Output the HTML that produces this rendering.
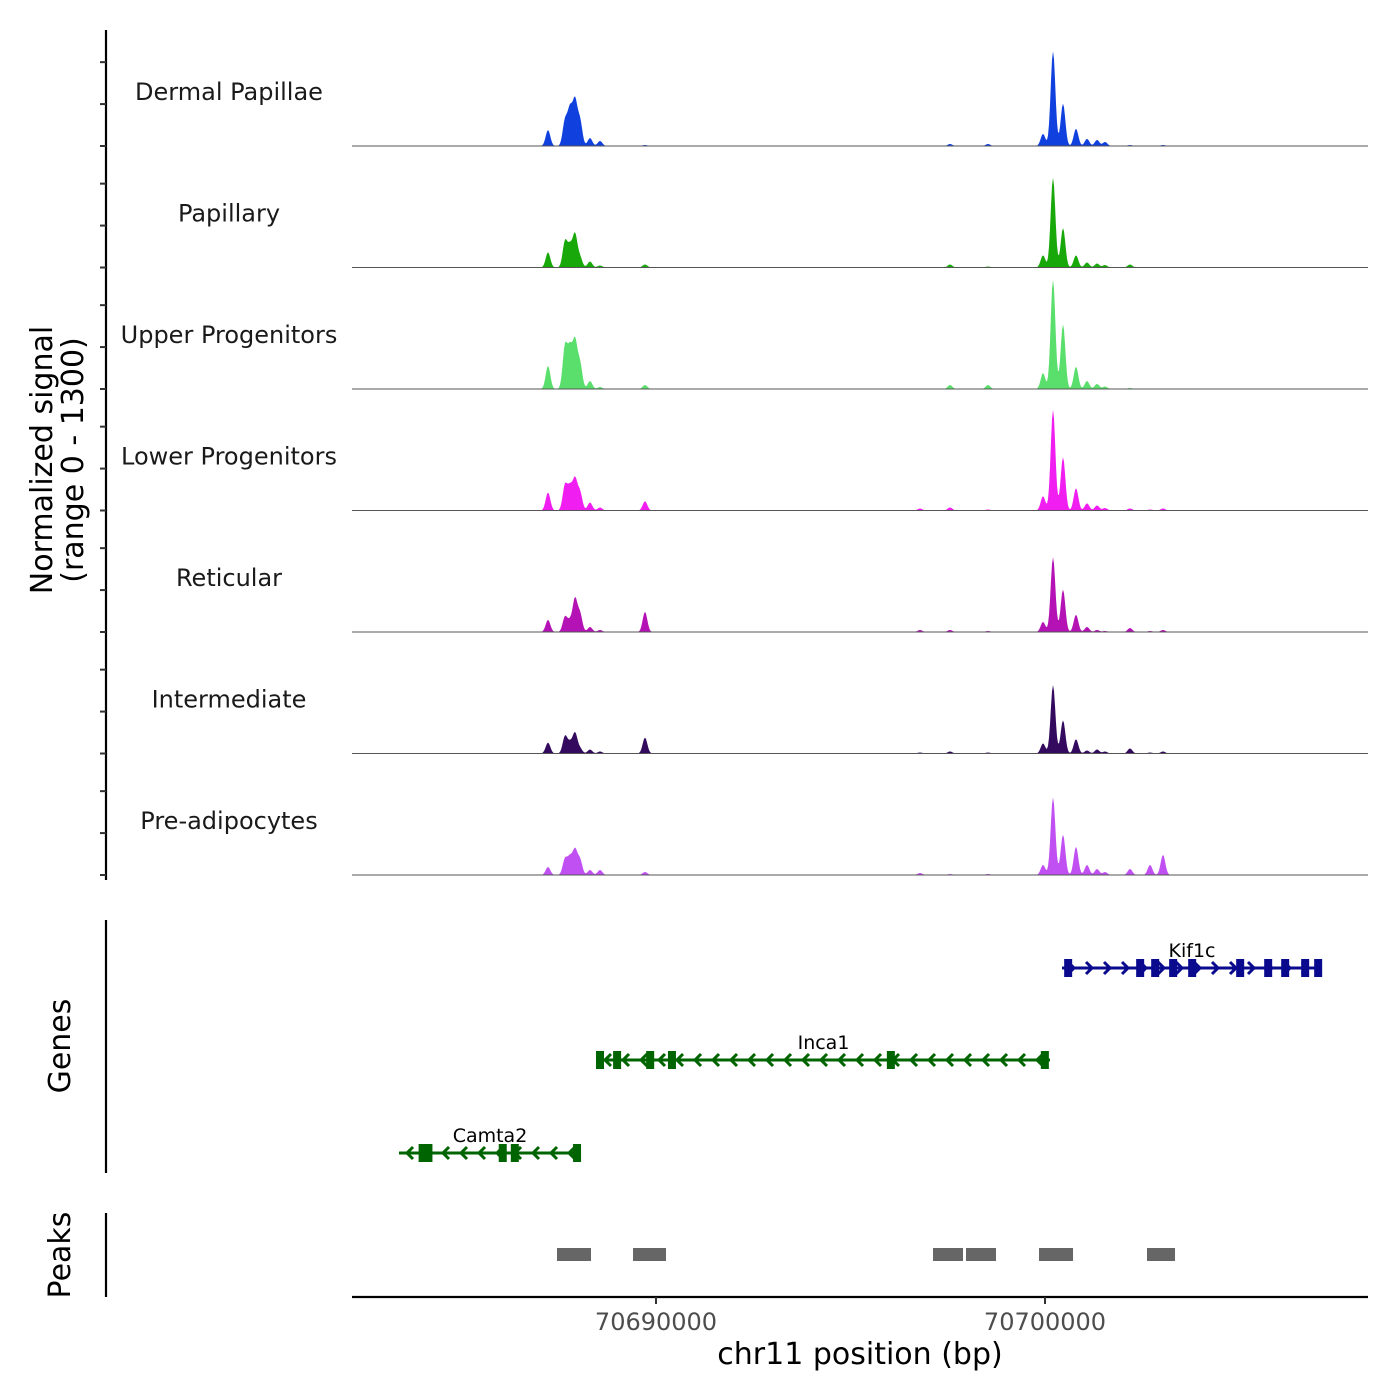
<!DOCTYPE html>
<html><head><meta charset="utf-8"><style>
body{margin:0;background:#fff}
svg{display:block;font-family:"DejaVu Sans","Liberation Sans",sans-serif}
</style></head><body>
<svg id="c" width="1400" height="1400" viewBox="0 0 1400 1400" xmlns="http://www.w3.org/2000/svg"></svg>
<script>
const tracks=["Dermal Papillae","Papillary","Upper Progenitors","Lower Progenitors","Reticular","Intermediate","Pre-adipocytes"];
const trackColors=["#1040de","#18a80a","#5ade6c","#f01ef0","#b412b4","#330a5e","#c050f2"];
const peakPos=[70687224,70687661,70687789,70687918,70688046,70688303,70688560,70689717,70696786,70697558,70698535,70699949,70700206,70700463,70700797,70701080,70701337,70701543,70702185,70702700,70703033];
const dpVals=[190,300,420,520,300,95,60,12,0,24,24,145,1130,505,205,85,72,48,12,0,12];
const papVals=[180,310,240,385,120,72,24,36,0,36,12,145,1070,470,145,60,48,30,36,0,0];
const upVals=[275,505,455,550,300,95,24,48,0,48,48,190,1310,770,265,95,60,30,12,0,0];
const lowVals=[215,300,265,360,215,95,36,110,24,36,12,170,1200,635,265,85,60,30,24,12,24];
const retVals=[145,180,120,385,215,60,24,240,24,24,12,120,890,505,205,60,24,12,48,12,24];
const intVals=[130,205,120,240,60,48,24,190,12,24,12,120,815,395,170,36,48,24,60,12,24];
const preVals=[96,190,200,290,180,60,60,36,24,12,12,120,925,480,335,120,72,36,72,120,240];
const seriesVals=[dpVals,papVals,upVals,lowVals,retVals,intVals,preVals];
const yTicks=[0,500,1000];
const genes=["Kif1c","Inca1","Camta2"];
const geneStart=[70700437,70688483,70683393];
const geneEnd=[70707121,70700129,70688072];
const geneStrand=[1,-1,-1];
const geneColor=["#0a0a8e","#006400","#006400"];
const geneExons=[[70700595,70702446,70702832,70703294,70703783,70705017,70705737,70706174,70706688,70707022],
 [70688560,70689000,70689850,70690410,70696037,70699996],
 [70684000,70684150,70686060,70686370,70687970]];
const peakStarts=[70687455,70689409,70697121,70697969,70699846,70702622];
const peakEnds=[70688329,70690257,70697892,70698740,70700720,70703342];
const xTicks=[70690000,70700000];

const svg=document.getElementById('c');const NS="http://www.w3.org/2000/svg";
function mk(t,a,p){const e=document.createElementNS(NS,t);for(const k in a)e.setAttribute(k,a[k]);(p||svg).appendChild(e);return e;}
const X0=352,X1=1368,B0=70682185,B1=70708303;
const xs=b=>X0+(b-B0)/(B1-B0)*(X1-X0);
const trackH=121.5,firstBase=146,yMax=1300,plotH=109;
const ys=(v,i)=>firstBase+i*trackH-v/yMax*plotH;

let e=mk('line',{x1:106,y1:30,x2:106,y2:880,stroke:'#000','stroke-width':2.2});

tracks.forEach((name,i)=>{
  const g=mk('g',{});
  
  
  yTicks.forEach(t=>{const l=mk('line',{x1:100,x2:106,y1:ys(t,i),y2:ys(t,i),stroke:'#333','stroke-width':2},g);
    });
  const vals=seriesVals[i];
  let d='M'+X0+','+ys(0,i);
  for(let x=X0;x<=X1;x+=1){
    const b=B0+(x-X0)/(X1-X0)*(B1-B0);let s=0;
    for(let k=0;k<peakPos.length;k++){const sg=60;s+=vals[k]*Math.exp(-Math.pow((b-peakPos[k])/sg,2)/2);}
    d+=' L'+x+','+ys(Math.min(s,yMax),i).toFixed(2);
  }
  d+=' L'+X1+','+ys(0,i)+' Z';
  const a=mk('path',{d:d,fill:trackColors[i]},g);
  
  const bl=mk('line',{x1:X0,x2:X1,y1:ys(0,i),y2:ys(0,i),stroke:'#555','stroke-width':1},g);
  
  const tx=mk('text',{x:229,y:ys(0,i)-46,'text-anchor':'middle','font-size':24,fill:'#1a1a1a'},g);
  tx.textContent=name;
});
const yt=mk('text',{transform:'translate(52,460) rotate(-90)','text-anchor':'middle','font-size':30,fill:'#000'});

yt.innerHTML='<tspan x="0" dy="0">Normalized signal</tspan><tspan x="0" dy="31">(range 0 - 1300)</tspan>';

e=mk('line',{x1:106,y1:920,x2:106,y2:1173,stroke:'#000','stroke-width':2.2});

e=mk('text',{transform:'translate(70,1046) rotate(-90)','text-anchor':'middle','font-size':30});e.textContent='Genes';

const geneY=[968,1060,1153];
genes.forEach((gn,i)=>{
  const g=mk('g',{});
  const y=geneY[i],c=geneColor[i],x1=xs(geneStart[i]),x2=xs(geneEnd[i]);
  mk('line',{x1:x1,x2:x2,y1:y,y2:y,stroke:c,'stroke-width':3},g);
  const dir=geneStrand[i];
  for(let x=x1+10;x<x2-4;x+=18){
    mk('polyline',{points:`${x-4*dir},${y-6} ${x+2*dir},${y} ${x-4*dir},${y+6}`,fill:'none',stroke:c,'stroke-width':3},g);
  }
  geneExons[i].forEach(b=>{const r=mk('rect',{x:xs(b)-4,y:y-9,width:8,height:18,fill:c},g);
    });
  const t=mk('text',{x:(x1+x2)/2,y:y-11,'text-anchor':'middle','font-size':19,fill:'#000'},g);t.textContent=gn;
  
});

e=mk('line',{x1:106,y1:1213,x2:106,y2:1297,stroke:'#000','stroke-width':2.2});

e=mk('text',{transform:'translate(70,1255) rotate(-90)','text-anchor':'middle','font-size':30});e.textContent='Peaks';

peakStarts.forEach((s,i)=>{const r=mk('rect',{x:xs(s),y:1248,width:xs(peakEnds[i])-xs(s),height:13,fill:'#666'});
  });

e=mk('line',{x1:X0,x2:X1,y1:1297,y2:1297,stroke:'#000','stroke-width':2.2});

xTicks.forEach(t=>{const l=mk('line',{x1:xs(t),x2:xs(t),y1:1297,y2:1304,stroke:'#333','stroke-width':2});
  
  const tx=mk('text',{x:xs(t),y:1330,'text-anchor':'middle','font-size':24,fill:'#4d4d4d'});tx.textContent=String(t);
  });
e=mk('text',{x:860,y:1364,'text-anchor':'middle','font-size':30});e.textContent='chr11 position (bp)';

</script>
</body></html>
